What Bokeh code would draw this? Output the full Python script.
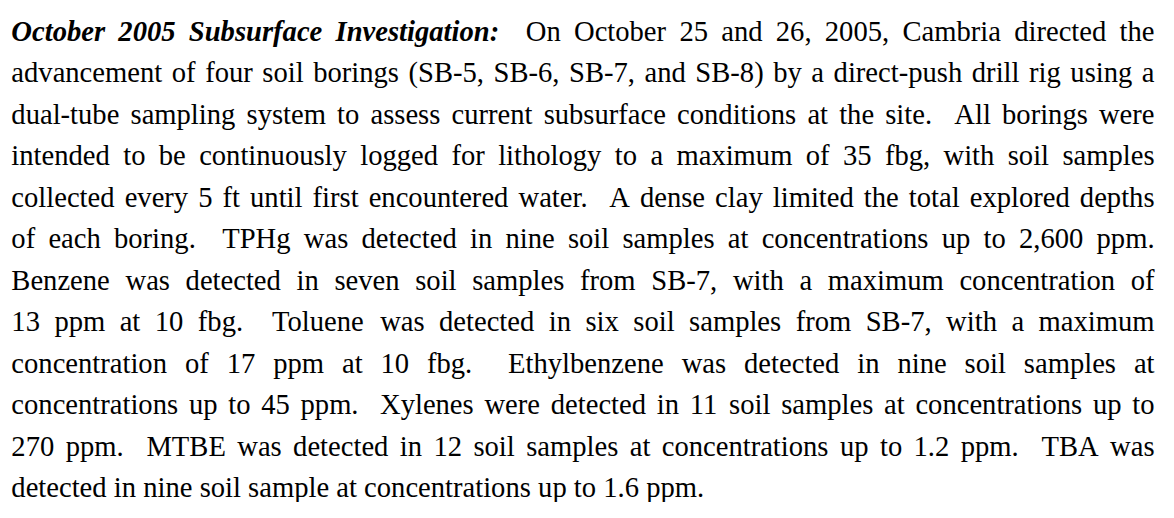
from bokeh.plotting import figure
from bokeh.models import Range1d, ColumnDataSource
from bokeh.core.properties import value
from bokeh.embed import file_html
from bokeh.resources import INLINE

# ---- text content (data) ----
HEADING = "October 2005 Subsurface Investigation:"
LINES = [
    "  On October 25 and 26, 2005, Cambria directed the",
    "advancement of four soil borings (SB-5, SB-6, SB-7, and SB-8) by a direct-push drill rig using a",
    "dual-tube sampling system to assess current subsurface conditions at the site.  All borings were",
    "intended to be continuously logged for lithology to a maximum of 35 fbg, with soil samples",
    "collected every 5 ft until first encountered water.  A dense clay limited the total explored depths",
    "of each boring.  TPHg was detected in nine soil samples at concentrations up to 2,600 ppm.",
    "Benzene was detected in seven soil samples from SB-7, with a maximum concentration of",
    "13 ppm at 10 fbg.  Toluene was detected in six soil samples from SB-7, with a maximum",
    "concentration of 17 ppm at 10 fbg.  Ethylbenzene was detected in nine soil samples at",
    "concentrations up to 45 ppm.  Xylenes were detected in 11 soil samples at concentrations up to",
    "270 ppm.  MTBE was detected in 12 soil samples at concentrations up to 1.2 ppm.  TBA was",
    "detected in nine soil sample at concentrations up to 1.6 ppm.",
]

# ---- font metrics (Times / Liberation Serif, units per 1000 em) ----
REG = dict(zip("abcdefghijklmnopqrstuvwxyz",
               [444, 500, 444, 500, 444, 333, 500, 500, 278, 278, 500, 278, 778,
                500, 500, 500, 500, 333, 389, 278, 500, 500, 722, 500, 500, 444]))
REG.update(zip("ABCDEFGHIJKLMNOPQRSTUVWXYZ",
               [722, 667, 667, 722, 611, 556, 722, 722, 333, 389, 722, 611, 889,
                722, 722, 556, 722, 667, 556, 611, 722, 722, 944, 722, 722, 611]))
REG.update({c: 500 for c in "0123456789"})
REG.update({" ": 250, ",": 250, ".": 250, "-": 333, "(": 333, ")": 333, ":": 278})
BI = dict(zip("abcdefghijklmnopqrstuvwxyz",
              [500, 500, 444, 500, 444, 333, 500, 556, 278, 278, 500, 278, 778,
               556, 500, 500, 500, 389, 389, 278, 556, 444, 667, 500, 444, 389]))
BI.update(zip("ABCDEFGHIJKLMNOPQRSTUVWXYZ",
              [667, 667, 667, 722, 667, 667, 722, 778, 389, 500, 667, 611, 889,
               722, 722, 611, 722, 667, 556, 611, 722, 667, 889, 667, 611, 611]))
BI.update({c: 500 for c in "0123456789"})
BI.update({" ": 250, ":": 333})

# page geometry in reference pixels, mapped onto the figure
REF_W, REF_H = 1174, 518
FIG_W, FIG_H = 1158, 502
SX = FIG_W / REF_W

FONT_PX = 29                 # in reference pixels
LEFT, RIGHT = 11, 1170
BASE0, LEAD = 32, 42.8


def width(word, table):
    return sum(table.get(c, 500) for c in word) * FONT_PX / 1000.0


def tokens(line_index):
    """Return list of (word, bold, spaces_before)."""
    out = []
    if line_index == 0:
        for i, w in enumerate(HEADING.split(" ")):
            out.append((w, True, 0 if i == 0 else 1))
    s = LINES[line_index]
    i = 0
    while i < len(s):
        n = 0
        while i < len(s) and s[i] == " ":
            n += 1
            i += 1
        j = i
        while j < len(s) and s[j] != " ":
            j += 1
        if j > i:
            out.append((s[i:j], False, n))
        i = j
    return out


reg = dict(x=[], y=[], t=[])
bold = dict(x=[], y=[], t=[])
space_px = REG[" "] * FONT_PX / 1000.0
for li in range(len(LINES)):
    toks = tokens(li)
    y = BASE0 + li * LEAD
    natural = sum(width(w, BI if b else REG) for w, b, _ in toks)
    nsp = sum(n for _, _, n in toks)
    natural += nsp * space_px
    if li < len(LINES) - 1 and nsp > 0:
        sp = space_px + (RIGHT - LEFT - natural) / nsp
    else:
        sp = space_px
    x = LEFT
    for w, b, n in toks:
        x += n * sp
        d = bold if b else reg
        d["x"].append(x)
        d["y"].append(y)
        d["t"].append(w)
        x += width(w, BI if b else REG)

p = figure(width=FIG_W, height=FIG_H, output_backend="svg", toolbar_location=None,
           x_range=Range1d(0, REF_W), y_range=Range1d(REF_H, 0), min_border=0)
p.axis.visible = False
p.grid.visible = False
p.outline_line_color = None
p.background_fill_color = "white"
p.border_fill_color = "white"

fs = f"{FONT_PX * SX:.2f}px"
p.text(x="x", y="y", text="t", source=ColumnDataSource(reg),
       text_font=value("Liberation Serif"), text_font_size=fs,
       text_color="black", text_baseline="alphabetic", text_align="left")
p.text(x="x", y="y", text="t", source=ColumnDataSource(bold),
       text_font=value("Liberation Serif"), text_font_size=fs,
       text_font_style="bold italic",
       text_color="black", text_baseline="alphabetic", text_align="left")

open("out.html", "w").write(file_html(p, INLINE))
